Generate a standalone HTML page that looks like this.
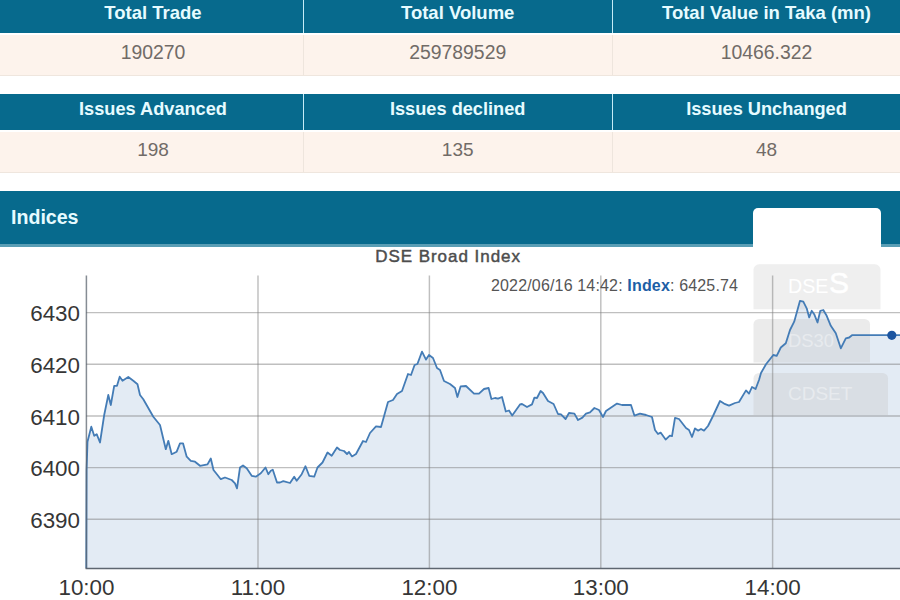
<!DOCTYPE html>
<html><head><meta charset="utf-8"><title>DSE Indices</title>
<style>
html,body{margin:0;padding:0;background:#fff;}
body{width:900px;height:600px;overflow:hidden;position:relative;font-family:"Liberation Sans",Arial,sans-serif;}
.abs{position:absolute;}
.hd{position:absolute;background:#076a8d;color:#e6fbff;font-weight:bold;font-size:18.5px;text-align:center;box-sizing:border-box;border-left:1.5px solid #c6ecf7;}
.hd span{position:absolute;left:0;right:0;}
.cell{position:absolute;background:#fdf3ec;color:#716b67;font-size:19.4px;text-align:center;box-sizing:border-box;border-left:1.5px solid #eee5dd;border-bottom:1.5px solid #efe6de;}
.cell span{position:absolute;left:0;right:0;}
</style></head><body>

<!-- table 1 -->
<div class="hd" style="left:-5px;top:-4px;width:309px;height:37px;border-left:none"><span style="top:5.7px;left:7px">Total Trade</span></div>
<div class="hd" style="left:302.7px;top:-4px;width:309px;height:37px"><span style="top:5.7px">Total Volume</span></div>
<div class="hd" style="left:611.5px;top:-4px;width:309px;height:37px"><span style="top:5.7px">Total Value in Taka (mn)</span></div>
<div class="cell" style="left:-5px;top:35.4px;width:309px;height:40.6px;border-left:none"><span style="top:6px;left:7px">190270</span></div>
<div class="cell" style="left:302.7px;top:35.4px;width:309px;height:40.6px"><span style="top:6px">259789529</span></div>
<div class="cell" style="left:611.5px;top:35.4px;width:309px;height:40.6px"><span style="top:6px">10466.322</span></div>

<!-- table 2 -->
<div class="hd" style="left:-5px;top:93.5px;width:309px;height:36px;border-left:none"><span style="top:5px;left:7px;font-size:18.2px">Issues Advanced</span></div>
<div class="hd" style="left:302.7px;top:93.5px;width:309px;height:36px"><span style="top:5px;font-size:18.2px">Issues declined</span></div>
<div class="hd" style="left:611.5px;top:93.5px;width:309px;height:36px"><span style="top:5px;font-size:18.2px">Issues Unchanged</span></div>
<div class="cell" style="left:-5px;top:132.4px;width:309px;height:40.6px;border-left:none"><span style="top:6.2px;left:7px;font-size:19px">198</span></div>
<div class="cell" style="left:302.7px;top:132.4px;width:309px;height:40.6px"><span style="top:6.2px;font-size:19px">135</span></div>
<div class="cell" style="left:611.5px;top:132.4px;width:309px;height:40.6px"><span style="top:6.2px;font-size:19px">48</span></div>

<!-- Indices header -->
<div class="abs" style="left:0;top:190.6px;width:900px;height:53px;background:#076a8d;border-bottom:3px solid #5a9eb5;"></div>
<div class="abs" style="left:11px;top:206px;color:#e6fbff;font-weight:bold;font-size:19.6px;">Indices</div>
<div class="abs" style="left:753px;top:208px;width:128px;height:45px;background:#fff;border-radius:5px 5px 0 0;"></div>

<!-- chart -->
<svg class="abs" style="left:0;top:0" width="900" height="600" viewBox="0 0 900 600" font-family="Liberation Sans, Arial, sans-serif">
  <!-- area fill -->
  <polygon points="86,568 86.3,568.0 86.6,470.0 87.5,441.7 91.3,426.7 94.2,435.8 96.7,434.2 100.0,442.5 104.2,415.0 108.3,395.0 110.8,405.0 114.2,385.8 117.0,385.8 119.7,376.7 122.5,380.8 128.3,377.0 133.3,380.8 137.5,384.2 140.0,395.0 143.3,399.2 153.3,416.7 160.0,425.0 165.8,449.2 168.3,440.8 171.7,454.2 176.7,451.7 180.0,443.3 183.0,443.3 186.7,456.7 190.8,460.8 195.0,461.7 200.0,465.8 207.5,464.4 210.8,458.5 213.5,470.0 217.5,475.0 220.8,479.2 225.0,477.5 231.7,480.0 235.0,483.3 237.0,488.3 240.0,467.5 243.0,465.5 246.7,468.3 251.7,475.8 255.8,476.7 260.8,473.3 265.5,467.5 268.3,474.2 270.8,470.8 272.8,469.7 277.0,482.5 280.0,482.5 283.3,481.2 290.0,483.0 294.2,476.7 296.7,480.8 301.7,474.2 305.5,466.2 309.2,475.8 314.2,476.7 317.5,467.5 322.5,462.5 327.5,452.5 331.7,455.8 337.0,447.5 340.0,450.0 344.0,451.0 347.0,454.0 349.0,452.0 352.0,456.4 356.0,454.0 363.0,441.0 366.0,442.0 370.0,433.0 376.0,426.4 381.0,427.0 388.0,402.0 393.0,400.0 397.0,394.0 402.0,391.0 408.0,374.0 411.0,375.0 414.6,365.0 417.4,364.0 422.0,351.6 426.0,359.6 429.0,355.0 433.0,358.0 437.0,368.0 440.0,370.0 444.0,381.0 450.0,384.0 455.0,388.0 457.4,397.0 460.6,386.4 466.0,386.0 474.0,393.6 479.0,393.6 484.0,389.0 488.6,388.0 491.4,399.0 495.0,398.0 498.0,398.6 502.0,397.0 505.8,411.5 509.0,410.5 512.2,415.6 520.0,404.4 522.0,404.0 527.0,407.0 532.0,404.4 534.4,397.6 537.0,398.0 540.6,391.0 543.0,393.0 548.0,401.0 553.6,404.0 558.0,414.0 561.0,414.4 565.6,419.0 569.0,413.0 574.4,413.6 578.0,420.0 582.4,417.6 586.0,413.6 590.0,412.4 594.4,408.0 599.0,410.0 603.0,417.0 606.0,411.0 617.0,403.6 622.0,405.0 631.0,405.0 634.4,415.6 640.0,413.6 646.0,415.0 652.0,417.0 655.0,430.0 658.0,434.0 660.6,432.6 665.6,439.6 669.8,435.6 672.0,436.2 675.0,417.8 679.0,419.0 686.0,428.0 689.0,430.0 692.0,437.0 695.0,428.4 698.0,430.6 701.0,429.0 704.0,430.6 708.0,426.0 713.0,416.0 720.0,401.0 724.0,403.6 729.0,405.6 735.0,403.0 739.0,402.0 746.0,390.4 749.0,393.6 752.0,387.0 755.6,389.0 759.0,380.0 761.0,373.0 766.0,364.2 773.3,355.0 776.7,355.8 780.8,347.5 785.8,343.3 790.0,330.0 794.2,321.7 800.0,300.8 803.3,301.7 806.7,308.3 809.2,317.5 811.7,310.8 814.2,314.2 817.5,322.5 820.3,310.8 823.3,310.0 826.7,315.8 830.8,325.8 835.8,333.3 840.8,348.3 845.8,338.3 849.2,337.5 852.0,335.2 891.7,335.2 905.0,335.2 905,568" fill="#4a82ba" fill-opacity="0.155"/>
  <!-- overlay tab buttons -->
  <path d="M753.5 309.3V269.8a5.5 5.5 0 0 1 5.5-5.5h116a5.5 5.5 0 0 1 5.5 5.5V309.3z" fill="#c7c7c7" fill-opacity="0.286"/>
  <path d="M753.5 362.5V324.5a5.5 5.5 0 0 1 5.5-5.5h105.500a5.5 5.5 0 0 1 5.5 5.5V362.5z" fill="#c7c7c7" fill-opacity="0.357"/>
  <path d="M753.5 415V378.500a5.5 5.5 0 0 1 5.5-5.5h123.500a5.5 5.5 0 0 1 5.5 5.5V415z" fill="#c7c7c7" fill-opacity="0.357"/>
  <text x="788" y="292.6" font-size="19.6" fill="#ffffff">DSE<tspan font-size="30" dx="0.6" stroke="#fff" stroke-width="0.5">S</tspan></text>
  <text x="788" y="347" font-size="18.4" fill="#ffffff" fill-opacity="0.4">DS30</text>
  <text x="788" y="400" font-size="19" fill="#ffffff" fill-opacity="0.4">CDSET</text>

  <!-- gridlines -->
  <g stroke="#808080" stroke-opacity="0.5" stroke-width="1.45" fill="none">
    <line x1="86" y1="312.6" x2="900" y2="312.6"/>
    <line x1="86" y1="364.3" x2="900" y2="364.3"/>
    <line x1="86" y1="416" x2="900" y2="416"/>
    <line x1="86" y1="467.6" x2="900" y2="467.6"/>
    <line x1="86" y1="519.3" x2="900" y2="519.3"/>
    <line x1="258" y1="275.5" x2="258" y2="568"/>
    <line x1="429.4" y1="275.5" x2="429.4" y2="568"/>
    <line x1="600.8" y1="275.5" x2="600.8" y2="568"/>
    <line x1="772.6" y1="275.5" x2="772.6" y2="568"/>
  </g>
  <!-- line -->
  <polyline points="86.3,568.0 86.6,470.0 87.5,441.7 91.3,426.7 94.2,435.8 96.7,434.2 100.0,442.5 104.2,415.0 108.3,395.0 110.8,405.0 114.2,385.8 117.0,385.8 119.7,376.7 122.5,380.8 128.3,377.0 133.3,380.8 137.5,384.2 140.0,395.0 143.3,399.2 153.3,416.7 160.0,425.0 165.8,449.2 168.3,440.8 171.7,454.2 176.7,451.7 180.0,443.3 183.0,443.3 186.7,456.7 190.8,460.8 195.0,461.7 200.0,465.8 207.5,464.4 210.8,458.5 213.5,470.0 217.5,475.0 220.8,479.2 225.0,477.5 231.7,480.0 235.0,483.3 237.0,488.3 240.0,467.5 243.0,465.5 246.7,468.3 251.7,475.8 255.8,476.7 260.8,473.3 265.5,467.5 268.3,474.2 270.8,470.8 272.8,469.7 277.0,482.5 280.0,482.5 283.3,481.2 290.0,483.0 294.2,476.7 296.7,480.8 301.7,474.2 305.5,466.2 309.2,475.8 314.2,476.7 317.5,467.5 322.5,462.5 327.5,452.5 331.7,455.8 337.0,447.5 340.0,450.0 344.0,451.0 347.0,454.0 349.0,452.0 352.0,456.4 356.0,454.0 363.0,441.0 366.0,442.0 370.0,433.0 376.0,426.4 381.0,427.0 388.0,402.0 393.0,400.0 397.0,394.0 402.0,391.0 408.0,374.0 411.0,375.0 414.6,365.0 417.4,364.0 422.0,351.6 426.0,359.6 429.0,355.0 433.0,358.0 437.0,368.0 440.0,370.0 444.0,381.0 450.0,384.0 455.0,388.0 457.4,397.0 460.6,386.4 466.0,386.0 474.0,393.6 479.0,393.6 484.0,389.0 488.6,388.0 491.4,399.0 495.0,398.0 498.0,398.6 502.0,397.0 505.8,411.5 509.0,410.5 512.2,415.6 520.0,404.4 522.0,404.0 527.0,407.0 532.0,404.4 534.4,397.6 537.0,398.0 540.6,391.0 543.0,393.0 548.0,401.0 553.6,404.0 558.0,414.0 561.0,414.4 565.6,419.0 569.0,413.0 574.4,413.6 578.0,420.0 582.4,417.6 586.0,413.6 590.0,412.4 594.4,408.0 599.0,410.0 603.0,417.0 606.0,411.0 617.0,403.6 622.0,405.0 631.0,405.0 634.4,415.6 640.0,413.6 646.0,415.0 652.0,417.0 655.0,430.0 658.0,434.0 660.6,432.6 665.6,439.6 669.8,435.6 672.0,436.2 675.0,417.8 679.0,419.0 686.0,428.0 689.0,430.0 692.0,437.0 695.0,428.4 698.0,430.6 701.0,429.0 704.0,430.6 708.0,426.0 713.0,416.0 720.0,401.0 724.0,403.6 729.0,405.6 735.0,403.0 739.0,402.0 746.0,390.4 749.0,393.6 752.0,387.0 755.6,389.0 759.0,380.0 761.0,373.0 766.0,364.2 773.3,355.0 776.7,355.8 780.8,347.5 785.8,343.3 790.0,330.0 794.2,321.7 800.0,300.8 803.3,301.7 806.7,308.3 809.2,317.5 811.7,310.8 814.2,314.2 817.5,322.5 820.3,310.8 823.3,310.0 826.7,315.8 830.8,325.8 835.8,333.3 840.8,348.3 845.8,338.3 849.2,337.5 852.0,335.2 891.7,335.2 905.0,335.2" fill="none" stroke="#447cb6" stroke-width="1.8" stroke-linejoin="round"/>
  <circle cx="891.8" cy="335.3" r="4.6" fill="#1c55a0"/>
  <!-- axes -->
  <line x1="86.4" y1="275.5" x2="86.4" y2="569" stroke="#5e6670" stroke-opacity="0.75" stroke-width="1.5"/>
  <line x1="85.6" y1="568.4" x2="900" y2="568.4" stroke="#5e6670" stroke-width="1.5"/>

  <!-- y labels -->
  <g font-size="22.4" fill="#363636" text-anchor="end">
    <text x="80" y="321.1">6430</text>
    <text x="80" y="372.8">6420</text>
    <text x="80" y="424.5">6410</text>
    <text x="80" y="476.1">6400</text>
    <text x="80" y="527.8">6390</text>
  </g>
  <!-- x labels -->
  <g font-size="22.4" fill="#363636" text-anchor="middle">
    <text x="86.5" y="595">10:00</text>
    <text x="258" y="595">11:00</text>
    <text x="429.4" y="595">12:00</text>
    <text x="600.8" y="595">13:00</text>
    <text x="772.6" y="595">14:00</text>
  </g>
  <!-- title -->
  <text x="375.2" y="262.2" font-size="17" fill="#4d4d4d" stroke="#4d4d4d" stroke-width="0.45" textLength="144.8" lengthAdjust="spacing">DSE Broad Index</text>
  <!-- legend -->
  <text x="491" y="291" font-size="16" fill="#555" textLength="247" lengthAdjust="spacing"><tspan>2022/06/16 14:42: </tspan><tspan font-weight="bold" fill="#1d5fa6">Index</tspan><tspan>: 6425.74</tspan></text>
</svg>
</body></html>
